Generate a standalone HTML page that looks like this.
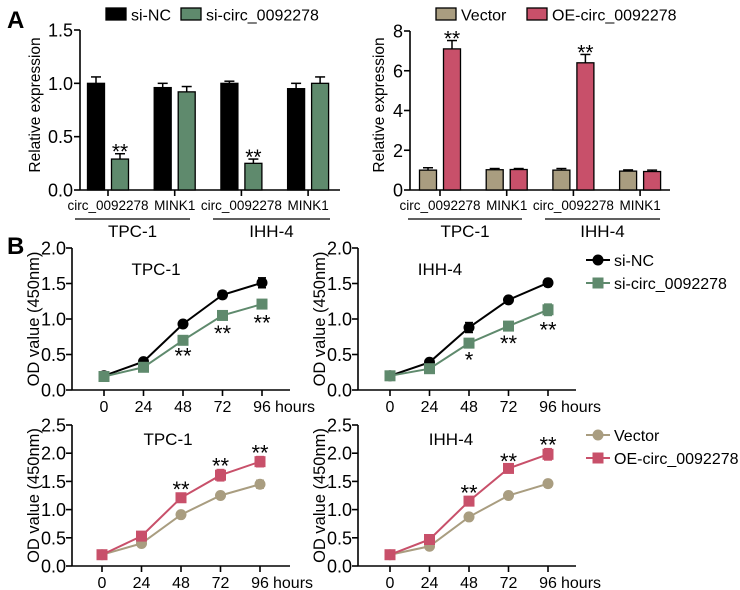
<!DOCTYPE html>
<html><head><meta charset="utf-8"><style>
body{margin:0;background:#fff}
svg{display:block;font-family:"Liberation Sans",Arial,sans-serif}
</style></head><body>
<svg id="fig" width="740" height="590" viewBox="0 0 740 590"></svg>
<script>
const NS='http://www.w3.org/2000/svg';
const svg=document.getElementById('fig');
function el(tag,attrs,parent,text){const e=document.createElementNS(NS,tag);for(const k in attrs)e.setAttribute(k,attrs[k]);if(text!==undefined)e.textContent=text;(parent||svg).appendChild(e);return e;}
const C={black:'#000',green:'#5f8a6d',tan:'#a99d80',red:'#c8506a'};

// ---- Panel A data ----
const aGenes=['circ_0092278','MINK1','circ_0092278','MINK1'];
const aLeftCtrl=[1.0,0.96,1.0,0.95];
const aLeftCtrlErr=[0.06,0.04,0.02,0.05];
const aLeftTreat=[0.29,0.92,0.25,1.0];
const aLeftTreatErr=[0.05,0.05,0.04,0.06];
const aLeftStars=['**','','**',''];
const aLeftTicks=[0,0.5,1.0,1.5];
const aRightCtrl=[1.0,1.02,1.0,0.95];
const aRightCtrlErr=[0.12,0.06,0.08,0.06];
const aRightTreat=[7.1,1.03,6.4,0.93];
const aRightTreatErr=[0.42,0.05,0.42,0.07];
const aRightStars=['**','','**',''];
const aRightTicks=[0,2,4,6,8];

// ---- Panel B data ----
const bHours=[0,24,48,72,96];
const b1NC=[0.20,0.40,0.93,1.34,1.51];
const b1NCErr=[0.02,0.03,0.03,0.05,0.07];
const b1Si=[0.19,0.32,0.70,1.05,1.21];
const b1SiErr=[0.02,0.02,0.02,0.05,0.06];
const b1Stars=['','','**','**','**'];
const b2NC=[0.20,0.39,0.88,1.27,1.51];
const b2NCErr=[0.02,0.03,0.07,0.04,0.05];
const b2Si=[0.20,0.30,0.66,0.90,1.13];
const b2SiErr=[0.03,0.02,0.03,0.04,0.08];
const b2Stars=['','','*','**','**'];
const b3Vec=[0.20,0.40,0.91,1.25,1.45];
const b3VecErr=[0.02,0.03,0.02,0.05,0.07];
const b3OE=[0.20,0.53,1.21,1.61,1.85];
const b3OEErr=[0.02,0.03,0.08,0.1,0.09];
const b3Stars=['','','**','**','**'];
const b4Vec=[0.20,0.35,0.87,1.25,1.46];
const b4VecErr=[0.02,0.02,0.02,0.03,0.06];
const b4OE=[0.20,0.47,1.15,1.73,1.98];
const b4OEErr=[0.02,0.03,0.08,0.06,0.1];
const b4Stars=['','','**','**','**'];
const bTicksTop=[0,0.5,1.0,1.5,2.0];
const bTicksBot=[0,0.5,1.0,1.5,2.0,2.5];

function txt(x,y,s,size,anchor,name,extra){const t=el('text',Object.assign({x:x,y:y,'font-size':size,'text-anchor':anchor||'middle','fill':'#000'},extra||{}),svg,s);return t;}

txt(7,28,'A',24,'start','panel-a-label',{'font-weight':'bold'});
txt(7,254,'B',24,'start','panel-b-label',{'font-weight':'bold'});

function barChart(o){
  const g=el('g',{});
  const y=v=>o.y0-(v/o.max)*(o.y0-o.y1);
  const ax=el('line',{x1:o.ax,y1:o.y1,x2:o.ax,y2:o.y0,stroke:'#000','stroke-width':1.6},g);
  
  o.ticks.forEach(t=>{el('line',{x1:o.ax-6,x2:o.ax,y1:y(t),y2:y(t),stroke:'#000','stroke-width':1.6},g);
    const tl=el('text',{x:o.ax-7,y:y(t)+6.5,'font-size':18,'text-anchor':'end'},g,o.fmt(t));});
  const xa=el('line',{x1:o.ax,x2:o.axEnd,y1:o.y0,y2:o.y0,stroke:'#000','stroke-width':1.6},g);
  
  const yt=el('text',{transform:`translate(${o.ytx},105) rotate(-90)`,'font-size':15.5,'text-anchor':'middle'},g,'Relative expression');
  
  aGenes.forEach((gn,i)=>{
    const cx=o.ax+o.first+i*o.step;
    el('line',{x1:cx,x2:cx,y1:o.y0,y2:o.y0+6,stroke:'#000','stroke-width':1.6},g);
    const lab=el('text',{x:cx,y:o.y0+20,'font-size':13.5,'text-anchor':'middle'},g,gn);
    
    [[o.ctrl,o.ctrlErr,o.c1,-12],[o.treat,o.treatErr,o.c2,12]].forEach(([vals,errs,col,off],k)=>{
      const bx=cx+off-8.5;
      el('line',{x1:cx+off,x2:cx+off,y1:y(vals[i]),y2:y(vals[i]+errs[i]),stroke:'#000','stroke-width':1.5},g);
      el('line',{x1:cx+off-5,x2:cx+off+5,y1:y(vals[i]+errs[i]),y2:y(vals[i]+errs[i]),stroke:'#000','stroke-width':1.5},g);
      const r=el('rect',{x:bx,y:y(vals[i]),width:17,height:o.y0-y(vals[i]),fill:col,stroke:'#000','stroke-width':1.3},g);
      
    });
    if(o.stars[i]){const s=el('text',{x:cx+12,y:y(o.treat[i]+o.treatErr[i])+5,'font-size':21,'text-anchor':'middle'},g,o.stars[i]);}
  });
  o.groups.forEach(gr=>{el('line',{x1:gr[0],x2:gr[1],y1:219,y2:219,stroke:'#000','stroke-width':1.3},g);
    const t=el('text',{x:(gr[0]+gr[1])/2,y:237,'font-size':17,'text-anchor':'middle'},g,gr[2]);});
  o.legend.forEach(l=>{const r=el('rect',{x:l[0],y:8,width:20,height:12,fill:l[1],stroke:'#000','stroke-width':1.3},g);
    const t=el('text',{x:l[0]+25,y:20.5,'font-size':16},g,l[2]);});
}
barChart({name:'knockdown-bar-chart',ax:80,axEnd:340,y0:190,y1:30,max:1.5,ticks:aLeftTicks,fmt:t=>t.toFixed(1),ytx:40,first:28,step:66.7,
  ctrl:aLeftCtrl,ctrlErr:aLeftCtrlErr,treat:aLeftTreat,treatErr:aLeftTreatErr,c1:C.black,c2:C.green,stars:aLeftStars,
  groups:[[75,190,'TPC-1'],[213,330,'IHH-4']],legend:[[106,C.black,'si-NC'],[181,C.green,'si-circ_0092278']]});
barChart({name:'overexpression-bar-chart',ax:410,axEnd:670,y0:190,y1:31,max:8,ticks:aRightTicks,fmt:t=>String(t),ytx:384,first:30,step:66.7,
  ctrl:aRightCtrl,ctrlErr:aRightCtrlErr,treat:aRightTreat,treatErr:aRightTreatErr,c1:C.tan,c2:C.red,stars:aRightStars,
  groups:[[408,522,'TPC-1'],[545,660,'IHH-4']],legend:[[436,C.tan,'Vector'],[527,C.red,'OE-circ_0092278']]});

function lineChart(o){
  const g=el('g',{});
  const y=v=>o.y0-(v/o.max)*(o.y0-o.y1);
  const x=h=>o.px0+(h/96)*(o.px1-o.px0);
  const ya=el('line',{x1:o.ax,x2:o.ax,y1:o.y1,y2:o.y0,stroke:'#000','stroke-width':1.6},g);
  o.ticks.forEach(t=>{el('line',{x1:o.ax-6,x2:o.ax,y1:y(t),y2:y(t),stroke:'#000','stroke-width':1.6},g);
    const tl=el('text',{x:o.ax-6,y:y(t)+6.5,'font-size':18,'text-anchor':'end'},g,t.toFixed(1));});
  const xa=el('line',{x1:o.ax,x2:o.ax+218,y1:o.y0,y2:o.y0,stroke:'#000','stroke-width':1.6},g);
  bHours.forEach(h=>{el('line',{x1:x(h),x2:x(h),y1:o.y0,y2:o.y0+6,stroke:'#000','stroke-width':1.6},g);
    const tl=el('text',{x:x(h),y:o.y0+22,'font-size':16,'text-anchor':'middle'},g,String(h));});
  const hr=el('text',{x:x(96)+13,y:o.y0+22,'font-size':16},g,'hours');
  const yt=el('text',{transform:`translate(${o.ax-33},${(o.y0+o.y1)/2}) rotate(-90)`,'font-size':16.5,'text-anchor':'middle'},g,'OD value (450nm)');
  const tt=el('text',{x:o.titleX,y:o.titleY,'font-size':17,'text-anchor':'middle'},g,o.title);
  o.series.forEach(s=>{
    const pts=s.v.map((v,i)=>x(bHours[i])+','+y(v)).join(' ');
    const pl=el('polyline',{points:pts,fill:'none',stroke:s.c,'stroke-width':2},g);
    s.v.forEach((v,i)=>{const cx=x(bHours[i]);
      el('line',{x1:cx,x2:cx,y1:y(v-s.e[i]),y2:y(v+s.e[i]),stroke:s.c,'stroke-width':1.5},g);
      [v-s.e[i],v+s.e[i]].forEach(w=>el('line',{x1:cx-4,x2:cx+4,y1:y(w),y2:y(w),stroke:s.c,'stroke-width':1.5},g));
      const m=s.sq?el('rect',{x:cx-5.5,y:y(v)-5.5,width:11,height:11,fill:s.c},g):el('circle',{cx:cx,cy:y(v),r:5.5,fill:s.c},g);
      });
  });
  o.stars.forEach((st,i)=>{if(!st)return;const sv=o.series[1];
    const ty=o.below?y(sv.v[i]-sv.e[i])+22:y(sv.v[i]+sv.e[i])+4;
    const t=el('text',{x:x(bHours[i]),y:ty,'font-size':22,'text-anchor':'middle'},g,st);});
}
lineChart({name:'tpc1-knockdown-growth',ax:72,y0:390,y1:248,max:2,ticks:bTicksTop,px0:104,px1:262,title:'TPC-1',titleX:156,titleY:275,below:true,stars:b1Stars,
  series:[{n:'si-nc',v:b1NC,e:b1NCErr,c:C.black},{n:'si-circ',v:b1Si,e:b1SiErr,c:C.green,sq:true}]});
lineChart({name:'ihh4-knockdown-growth',ax:358,y0:390,y1:248,max:2,ticks:bTicksTop,px0:390,px1:548,title:'IHH-4',titleX:440,titleY:275,below:true,stars:b2Stars,
  series:[{n:'si-nc',v:b2NC,e:b2NCErr,c:C.black},{n:'si-circ',v:b2Si,e:b2SiErr,c:C.green,sq:true}]});
lineChart({name:'tpc1-overexpression-growth',ax:72,y0:566,y1:425,max:2.5,ticks:bTicksBot,px0:102,px1:260,title:'TPC-1',titleX:168,titleY:445,below:false,stars:b3Stars,
  series:[{n:'vector',v:b3Vec,e:b3VecErr,c:C.tan},{n:'oe-circ',v:b3OE,e:b3OEErr,c:C.red,sq:true}]});
lineChart({name:'ihh4-overexpression-growth',ax:358,y0:566,y1:425,max:2.5,ticks:bTicksBot,px0:390,px1:548,title:'IHH-4',titleX:451,titleY:445,below:false,stars:b4Stars,
  series:[{n:'vector',v:b4Vec,e:b4VecErr,c:C.tan},{n:'oe-circ',v:b4OE,e:b4OEErr,c:C.red,sq:true}]});

function lineLegend(x0,y0,items,name){const g=el('g',{});
  items.forEach((it,i)=>{const yy=y0+i*23;
    el('line',{x1:x0,x2:x0+24,y1:yy,y2:yy,stroke:it[1],'stroke-width':2},g);
    const m=it[2]?el('rect',{x:x0+6.5,y:yy-5.5,width:11,height:11,fill:it[1]},g):el('circle',{cx:x0+12,cy:yy,r:5.5,fill:it[1]},g);
    
    const t=el('text',{x:x0+28,y:yy+6,'font-size':16},g,it[0]);});}
lineLegend(586,260,[['si-NC',C.black,false],['si-circ_0092278',C.green,true]],'knockdown-legend');
lineLegend(586,435,[['Vector',C.tan,false],['OE-circ_0092278',C.red,true]],'overexpression-legend');
</script>
</body></html>
